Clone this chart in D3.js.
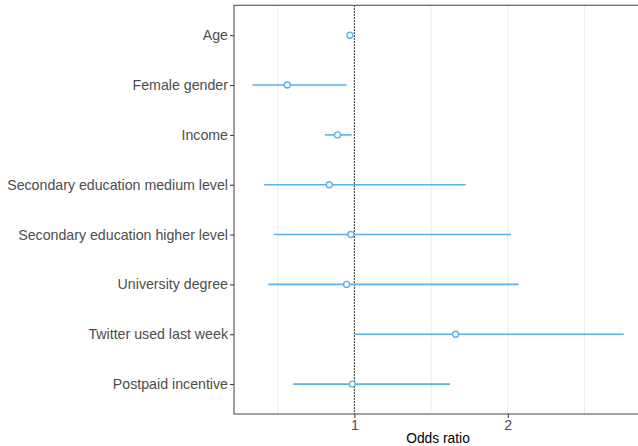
<!DOCTYPE html>
<html>
<head>
<meta charset="utf-8">
<script src="https://cdn.jsdelivr.net/npm/d3@7"></script>
<style>
html,body{margin:0;padding:0;background:#fff;}
svg{display:block;font-family:"Liberation Sans",Arial,sans-serif;}
</style>
</head>
<body>
<svg id="chart" width="638" height="446"></svg>
<script>
const categories = ["Age","Female gender","Income","Secondary education medium level","Secondary education higher level","University degree","Twitter used last week","Postpaid incentive"];
const oddsRatio = [0.971, 0.562, 0.890, 0.836, 0.977, 0.949, 1.660, 0.986];
const lowerCI  = [0.962, 0.336, 0.808, 0.412, 0.477, 0.438, 1.000, 0.599];
const upperCI  = [0.982, 0.949, 0.982, 1.725, 2.021, 2.071, 2.756, 1.623];
const xTicks = [1, 2];
const xGrid = [0.5, 1, 1.5, 2, 2.5];
const xTitle = "Odds ratio";

(function(){
const svg = d3.select("#chart");
const pLeft = 234, pTop = 5.3, pBottom = 414, pRight = 642.3;
const font = "'Liberation Sans', Arial, sans-serif";

const x = d3.scaleLinear().domain([0.215, 2.877]).range([pLeft, pRight]);
const y = d3.scalePoint().domain(categories).range([pTop, pBottom]).padding(0.6);

const g = svg.append("g");

g.selectAll(".grid").data(xGrid).join("line")
  .attr("x1", d => x(d)).attr("x2", d => x(d))
  .attr("y1", pTop).attr("y2", pBottom)
  .attr("stroke", "#ebebeb").attr("stroke-width", 1);

g.append("line")
  .attr("x1", x(1)).attr("x2", x(1)).attr("y1", pTop).attr("y2", pBottom)
  .attr("stroke", "#000").attr("stroke-width", 1).attr("stroke-dasharray", "1.5,1.5");

const rows = categories.map((c, i) => ({c, or: oddsRatio[i], lo: lowerCI[i], hi: upperCI[i]}));
const col = "#56B4E9";

g.selectAll(".ci").data(rows).join("line")
  .attr("x1", d => x(d.lo)).attr("x2", d => x(d.hi))
  .attr("y1", d => y(d.c)).attr("y2", d => y(d.c))
  .attr("stroke", col).attr("stroke-width", 1.6);

g.selectAll(".pt").data(rows).join("circle")
  .attr("cx", d => x(d.or)).attr("cy", d => y(d.c)).attr("r", 3)
  .attr("fill", "#fff").attr("stroke", col).attr("stroke-width", 1.4);

svg.append("rect").attr("x", pLeft).attr("y", pTop).attr("width", pRight - pLeft).attr("height", pBottom - pTop)
  .attr("fill", "none").attr("stroke", "#555").attr("stroke-width", 1.1);

const xAxis = svg.append("g").attr("transform", `translate(0,${pBottom})`)
  .call(d3.axisBottom(x).tickValues(xTicks).tickFormat(d3.format("d")).tickSize(4).tickPadding(2));
xAxis.select(".domain").remove();
xAxis.selectAll("line").attr("stroke", "#333");
xAxis.selectAll("text").attr("fill", "#4d4d4d").style("font-size", "14.2px").style("font-family", font);

const yAxis = svg.append("g").attr("transform", `translate(${pLeft},0)`)
  .call(d3.axisLeft(y).tickSize(4).tickPadding(2));
yAxis.select(".domain").remove();
yAxis.selectAll("line").attr("stroke", "#333");
yAxis.selectAll("text").attr("fill", "#4d4d4d").style("font-size", "14.2px").style("font-family", font);

svg.append("text").attr("x", (pLeft + 642) / 2).attr("y", 443)
  .attr("text-anchor", "middle").attr("fill", "#000")
  .style("font-size", "13.8px").style("font-family", font).text(xTitle);
})();
</script>
</body>
</html>
